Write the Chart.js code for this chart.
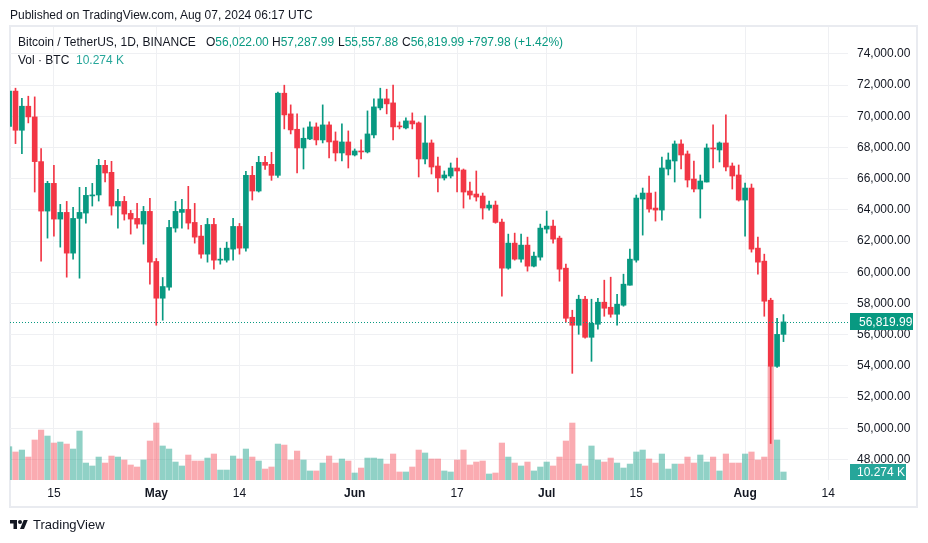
<!DOCTYPE html>
<html>
<head>
<meta charset="utf-8">
<script src="https://cdn.jsdelivr.net/npm/chart.js@4.4.1/dist/chart.umd.min.js"></script>
<style>
  body { margin: 0; background: #fff; font-family: 'Liberation Sans', Arial, sans-serif; color: #131722; }
  .frame { position: absolute; left: 9px; top: 25px; width: 905px; height: 479px; border: 2px solid #e9ebf0; }
  #wrap { position: absolute; left: 0; top: 0; width: 928px; height: 543px; }
  .txt { position: absolute; font-size: 12px; line-height: 16px; white-space: nowrap; z-index: 2; }
  .g { color: #089981; }
  .v { color: #26a69a; }
</style>
</head>
<body>
<div class="frame"></div>
<div id="wrap"><canvas id="chart"></canvas></div>
<div class="txt" style="left:10px;top:7px;">Published on TradingView.com, Aug 07, 2024 06:17 UTC</div>
<div id="legend"></div>
<svg style="position:absolute;left:10px;top:518px;" width="18" height="14" viewBox="0 0 36 28">
  <path fill="#131722" d="M14 22H7V11H0V4h14v18zM28 22h-8l7.5-18h8L28 22z"/>
  <circle fill="#131722" cx="20" cy="8" r="4"/>
</svg>
<div class="txt" style="left:33px;top:517px;font-size:13px;">TradingView</div>
<script>
// daily candles BTCUSDT, Apr 8 - Aug 7 2024
const dates = [
  '2024-04-08','2024-04-09','2024-04-10','2024-04-11','2024-04-12','2024-04-13','2024-04-14','2024-04-15',
  '2024-04-16','2024-04-17','2024-04-18','2024-04-19','2024-04-20','2024-04-21','2024-04-22','2024-04-23',
  '2024-04-24','2024-04-25','2024-04-26','2024-04-27','2024-04-28','2024-04-29','2024-04-30',
  '2024-05-01','2024-05-02','2024-05-03','2024-05-04','2024-05-05','2024-05-06','2024-05-07','2024-05-08',
  '2024-05-09','2024-05-10','2024-05-11','2024-05-12','2024-05-13','2024-05-14','2024-05-15','2024-05-16',
  '2024-05-17','2024-05-18','2024-05-19','2024-05-20','2024-05-21','2024-05-22','2024-05-23','2024-05-24',
  '2024-05-25','2024-05-26','2024-05-27','2024-05-28','2024-05-29','2024-05-30','2024-05-31',
  '2024-06-01','2024-06-02','2024-06-03','2024-06-04','2024-06-05','2024-06-06','2024-06-07','2024-06-08',
  '2024-06-09','2024-06-10','2024-06-11','2024-06-12','2024-06-13','2024-06-14','2024-06-15','2024-06-16',
  '2024-06-17','2024-06-18','2024-06-19','2024-06-20','2024-06-21','2024-06-22','2024-06-23','2024-06-24',
  '2024-06-25','2024-06-26','2024-06-27','2024-06-28','2024-06-29','2024-06-30',
  '2024-07-01','2024-07-02','2024-07-03','2024-07-04','2024-07-05','2024-07-06','2024-07-07','2024-07-08',
  '2024-07-09','2024-07-10','2024-07-11','2024-07-12','2024-07-13','2024-07-14','2024-07-15','2024-07-16',
  '2024-07-17','2024-07-18','2024-07-19','2024-07-20','2024-07-21','2024-07-22','2024-07-23','2024-07-24',
  '2024-07-25','2024-07-26','2024-07-27','2024-07-28','2024-07-29','2024-07-30','2024-07-31',
  '2024-08-01','2024-08-02','2024-08-03','2024-08-04','2024-08-05','2024-08-06','2024-08-07'
];
const opens = [69360,71620,69110,70651,69966,67100,63928,65705,63414,63843,61231,63457,63800,64900,64960,66861,
  66412,64250,64549,63778,63457,63093,63907,60696,58341,59047,62836,63843,64035,63200,62323,61166,63072,60781,
  60781,61488,62943,61552,66219,65213,67054,66926,66219,71486,70159,69174,67975,68553,69324,68489,69452,68424,
  67654,68360,67525,67782,67718,68810,70544,71122,70865,69388,69259,69709,69581,67268,68296,66818,66048,66176,
  66690,66562,65213,65020,64892,64121,64314,63222,60267,61873,60845,61745,60396,60974,62772,62965,62194,60267,
  57120,56607,58276,55835,56670,58084,57762,57313,57891,59175,60781,64699,65084,64121,63993,66626,67140,68232,
  67590,65984,65341,65791,67975,67846,68296,66818,66241,64635,65405,61552,60717,58212,53972,56022.00];
const highs = [72797,71807,71165,71293,71250,67932,65834,66861,64357,64549,64164,65448,65448,65705,67247,67183,
  67119,65320,64870,63971,64421,64228,64742,60889,59668,63329,64549,64678,65513,64421,63008,63457,63457,61552,
  61937,63457,63136,66476,66797,67440,67440,67697,71550,72000,70737,70159,69259,69645,69581,70737,69645,69002,
  69516,69067,67911,68489,70351,71122,71807,71743,72000,69645,69902,70223,69645,70030,68489,67397,66498,67011,
  67333,66626,65791,66498,65084,64571,64571,63414,62451,62515,62451,62258,61295,63093,63928,63350,62323,60524,
  57570,58533,58469,58276,58340,59497,59689,58597,59882,61488,64956,65405,66176,65149,67397,67654,68424,68489,
  67782,67140,66241,68232,69452,68360,70094,67011,66883,65727,65662,62258,61166,58340,57055,57287.99];
const lows = [69043,68253,67611,69581,65149,60717,62194,62323,61616,59689,60845,59625,63157,64250,64571,65791,
  63671,62836,63350,62451,62836,61809,59240,56607,56928,58854,62580,62836,62772,61873,60910,60653,60203,60524,
  60653,60781,61166,61359,64635,65149,66604,65898,66091,69195,68874,66369,66626,68500,68168,68296,67333,67140,
  67140,66690,67461,67268,67654,68617,70416,70159,68489,69195,69195,69195,66112,66947,66305,65149,65919,66048,
  65149,64121,64699,64571,63414,63993,63150,58469,60200,60781,60653,60075,60350,60781,62515,61873,59432,56799,
  53523,56028,55771,54294,56349,57184,57120,56607,57826,59175,60653,62387,63864,63286,63350,66241,65791,66626,
  65470,65149,63478,65791,66690,67076,66498,65341,64571,62323,61295,59882,57184,49026,53900,55557.88];
const closes = [71620,69110,70651,69966,67100,63928,65705,63414,63843,61231,63457,63843,64935,64960,66861,66369,
  64250,64549,63736,63414,63093,63907,60653,58341,59090,62879,63907,64035,63157,62258,61166,63072,60781,60824,
  61552,62943,61552,66219,65213,67054,66861,66219,71486,70094,69131,67975,68596,69324,68489,69452,68360,67654,
  68360,67525,67782,67718,68874,70608,71122,70801,69324,69324,69709,69516,67268,68296,66754,66048,66241,66690,
  66498,65149,64956,64828,64121,64314,63200,60267,61873,60845,61745,60396,61038,62836,62965,62130,60203,57055,
  56607,58276,55835,56734,58084,57698,57313,57955,59240,60845,64763,65084,64057,63993,66690,67204,68232,67525,
  65919,65341,65855,67975,67911,68296,66754,66176,64635,65405,61488,60653,58148,53972,56022.01,56819.99];
// volume, thousands of BTC
const volumes = [42.8,36.0,38.5,29.5,51.4,64.2,56.5,47.5,48.8,46.2,39.8,62.9,21.8,18.0,29.5,21.8,30.8,29.5,25.7,
  19.3,16.7,25.7,50.1,73.2,43.7,39.8,23.1,18.0,32.1,24.4,24.4,28.2,33.4,12.8,12.8,30.8,27.0,39.8,29.5,24.4,14.1,
  16.7,46.2,44.9,25.7,37.2,25.7,11.6,11.6,21.8,30.8,21.8,27.0,24.4,9.0,15.4,28.2,28.2,27.0,20.5,33.4,10.3,10.3,
  16.7,38.5,34.7,27.0,27.0,11.6,10.3,25.7,38.5,19.3,23.1,24.4,7.7,9.0,47.5,29.5,21.8,18.0,23.1,11.6,16.7,23.1,
  18.0,29.5,50.1,73.2,20.5,18.0,43.7,25.7,23.1,28.2,21.8,15.4,20.5,36.0,38.5,27.0,21.8,33.4,14.1,20.5,20.5,29.5,
  21.8,32.1,23.1,29.5,11.6,33.4,21.8,21.8,33.4,36.0,25.7,29.5,145.5,51.4,10.274];
const priceTicks = [48000,50000,52000,54000,56000,58000,60000,62000,64000,66000,68000,70000,72000,74000];
const xTickDates = ['2024-04-15','2024-05-01','2024-05-14','2024-06-01','2024-06-17','2024-07-01','2024-07-15','2024-08-01','2024-08-14'];
const xTickLabels = ['15','May','14','Jun','17','Jul','15','Aug','14'];

const upColor = '#089981';
const downColor = '#f23645';
const upVol = 'rgba(8,153,129,0.45)';
const downVol = 'rgba(242,54,69,0.42)';
const gridColor = '#eff0f3';

Chart.defaults.font.family = "'Liberation Sans', Arial, sans-serif";
Chart.defaults.font.size = 12;
Chart.defaults.color = '#131722';

const day0 = Date.parse(dates[0]);
function dayIdx(d) {
  return Math.round((Date.parse(d) - day0) / 86400000);
}
const xs = dates.map(dayIdx);
const isUp = closes.map((c, i) => c >= opens[i]);
const candleColors = isUp.map(u => (u ? upColor : downColor));
const last = closes.length - 1;

function fmt(v) {
  return v.toLocaleString('en-US', { minimumFractionDigits: 2, maximumFractionDigits: 2 });
}

// legend on top of the chart
const chg = closes[last] - closes[last - 1];
const pct = chg / closes[last - 1] * 100;
document.getElementById('legend').innerHTML =
  '<div class="txt" style="left:18px;top:34px;">Bitcoin / TetherUS, 1D, BINANCE</div>' +
  '<div class="txt" style="left:206px;top:34px;">O<span class="g">' + fmt(opens[last]) + '</span></div>' +
  '<div class="txt" style="left:272px;top:34px;">H<span class="g">' + fmt(highs[last]) + '</span></div>' +
  '<div class="txt" style="left:338px;top:34px;">L<span class="g">' + fmt(lows[last]) + '</span></div>' +
  '<div class="txt" style="left:402px;top:34px;">C<span class="g">' + fmt(closes[last]) + '</span></div>' +
  '<div class="txt g" style="left:467px;top:34px;">+' + chg.toFixed(2) + ' (+' + pct.toFixed(2) + '%)</div>' +
  '<div class="txt" style="left:18px;top:52px;">Vol \u00b7 BTC</div>' +
  '<div class="txt v" style="left:76px;top:52px;">' + volumes[last].toFixed(3) + ' K</div>';

const overlay = {
  id: 'overlay',
  afterDatasetsDraw(chart) {
    const { ctx, chartArea: a, scales } = chart;
    const py = Math.round(scales.y.getPixelForValue(closes[last])) + 0.5;
    ctx.save();
    ctx.strokeStyle = upColor;
    ctx.lineWidth = 1;
    ctx.setLineDash([1, 2]);
    ctx.beginPath();
    ctx.moveTo(a.left, py);
    ctx.lineTo(a.right, py);
    ctx.stroke();
    ctx.restore();
  },
  afterDraw(chart) {
    const { ctx, chartArea: a, scales } = chart;
    ctx.save();
    ctx.font = "12px 'Liberation Sans', Arial, sans-serif";
    ctx.textBaseline = 'middle';
    // last price tag
    const py = scales.y.getPixelForValue(closes[last]);
    ctx.fillStyle = upColor;
    ctx.fillRect(a.right + 2, Math.round(py - 8.5), 63, 17);
    ctx.fillStyle = '#fff';
    ctx.fillText(fmt(closes[last]), a.right + 11, py + 0.5);
    // last volume tag
    let vy = scales.yv.getPixelForValue(volumes[last]);
    vy = Math.min(vy, a.bottom - 8);
    ctx.fillStyle = '#26a69a';
    ctx.fillRect(a.right + 2, Math.round(vy - 8), 56, 16);
    ctx.fillStyle = '#fff';
    ctx.fillText(volumes[last].toFixed(3) + ' K', a.right + 9, vy + 0.5);
    ctx.restore();
  }
};

new Chart(document.getElementById('chart'), {
  type: 'bar',
  data: {
    datasets: [
      {
        data: xs.map((x, i) => ({ x: x, y: [opens[i], closes[i]] })),
        backgroundColor: candleColors,
        barThickness: 5,
        minBarLength: 1,
        grouped: false,
        yAxisID: 'y',
        clip: 0,
      },
      {
        data: xs.map((x, i) => ({ x: x, y: [lows[i], highs[i]] })),
        backgroundColor: candleColors,
        barThickness: 1,
        minBarLength: 1,
        grouped: false,
        yAxisID: 'y',
        clip: 0,
      },
      {
        data: xs.map((x, i) => ({ x: x, y: volumes[i] })),
        backgroundColor: isUp.map(u => (u ? upVol : downVol)),
        barThickness: 5.5,
        grouped: false,
        yAxisID: 'yv',
        clip: 0,
      },
    ],
  },
  options: {
    responsive: true,
    maintainAspectRatio: false,
    animation: false,
    layout: { padding: { left: 10, top: 27, right: 11, bottom: 36 } },
    plugins: { legend: { display: false }, tooltip: { enabled: false } },
    scales: {
      x: {
        type: 'linear',
        min: 0.14,
        max: 131.08,
        offset: false,
        grid: { color: gridColor, drawTicks: false, offset: false },
        border: { display: false },
        afterBuildTicks: (axis) => {
          axis.ticks = xTickDates.map(d => ({ value: dayIdx(d) }));
        },
        afterFit: (axis) => {
          axis.height = 27;
        },
        ticks: {
          autoSkip: false,
          maxRotation: 0,
          padding: 6,
          color: '#131722',
          callback: (v, i) => xTickLabels[i],
          font: (c) => ({ size: 12, weight: /^[A-Z]/.test(xTickLabels[c.index] || '') ? 'bold' : 'normal' }),
        },
      },
      y: {
        position: 'right',
        min: 46684,
        max: 75731,
        grid: { color: gridColor, drawTicks: false },
        border: { display: false },
        afterBuildTicks: (axis) => {
          axis.ticks = priceTicks.map(v => ({ value: v }));
        },
        afterFit: (axis) => {
          axis.width = 69;
        },
        ticks: { padding: 9, color: '#131722', callback: (v) => fmt(v) },
      },
      yv: { display: false, min: 0, max: 582 },
    },
  },
  plugins: [overlay],
});
</script>
</body>
</html>
